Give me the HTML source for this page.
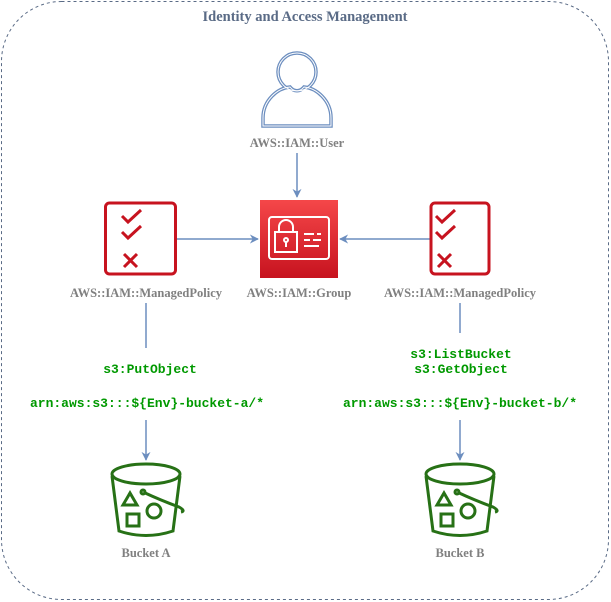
<!DOCTYPE html>
<html><head><style>body{margin:0;background:#fff}svg{display:block}</style></head>
<body>
<svg width="611" height="602" viewBox="0 0 611 602" xmlns="http://www.w3.org/2000/svg">
<defs>
<linearGradient id="rg" x1="0" y1="0" x2="0" y2="1"><stop offset="0" stop-color="#f54749"/><stop offset="1" stop-color="#c7131f"/></linearGradient>
<marker id="ar" viewBox="0 0 10 10" refX="9" refY="5" markerWidth="9" markerHeight="9" markerUnits="userSpaceOnUse" orient="auto"><path d="M0,0 L10,5 L0,10 L3,5 Z" fill="#6c8ebf"/></marker>
</defs>
<rect x="1.5" y="1.5" width="607" height="598" rx="60" fill="none" stroke="#5a6b86" stroke-dasharray="3,3"/>
<text x="305" y="21" text-anchor="middle" font-family="Liberation Serif,serif" font-weight="bold" font-size="14.5" fill="#5a6b86">Identity and Access Management</text>

<!-- user -->
<g fill="#fff" stroke="#6c8ebf" stroke-width="3.5">
<circle cx="297" cy="72" r="19"/>
<path d="M263,126 L263,118 C263,100 278,88 290,87 C294,92 300,92 304,87 C316,88 331,100 331,118 L331,126 Z"/>
</g>
<g fill="none" stroke="#fff" stroke-width="1">
<circle cx="297" cy="72" r="19"/>
<path d="M263,126 L263,118 C263,100 278,88 290,87 C294,92 300,92 304,87 C316,88 331,100 331,118 L331,126 Z"/>
</g>
<g font-family="Liberation Serif,serif" font-weight="bold" font-size="12.5" fill="#808080" text-anchor="middle">
<text x="297" y="147">AWS::IAM::User</text>
<text x="146" y="297">AWS::IAM::ManagedPolicy</text>
<text x="299" y="297">AWS::IAM::Group</text>
<text x="460" y="297">AWS::IAM::ManagedPolicy</text>
<text x="146" y="557">Bucket A</text>
<text x="460" y="557">Bucket B</text>
</g>

<g stroke="#6c8ebf" stroke-width="1.5" fill="none">
<line x1="297" y1="153" x2="297" y2="197" marker-end="url(#ar)"/>
<line x1="177" y1="239" x2="258" y2="239" marker-end="url(#ar)"/>
<line x1="430" y1="239" x2="340" y2="239" marker-end="url(#ar)"/>
<line x1="146" y1="303" x2="146" y2="348"/>
<line x1="146" y1="420" x2="146" y2="460" marker-end="url(#ar)"/>
<line x1="460" y1="303" x2="460" y2="333"/>
<line x1="460" y1="420" x2="460" y2="460" marker-end="url(#ar)"/>
</g>

<!-- group -->
<rect x="260" y="200" width="78" height="78" fill="url(#rg)"/>
<g stroke="#fff" stroke-width="2" fill="none">
<rect x="269" y="217" width="60" height="42" rx="3"/>
<rect x="275" y="232" width="22" height="20"/>
<path d="M279,232 v-5 a7,7 0 0 1 14,0 v5"/>
<circle cx="286" cy="240" r="2"/>
<line x1="286" y1="242" x2="286" y2="247"/>
<line x1="304" y1="234" x2="314" y2="234"/><line x1="317" y1="234" x2="321" y2="234"/>
<line x1="304" y1="240" x2="310" y2="240"/><line x1="313" y1="240" x2="321" y2="240"/>
<line x1="304" y1="246" x2="319" y2="246"/>
</g>

<!-- policies -->
<g stroke="#c7131f" stroke-width="3" fill="none">
<rect x="105.5" y="203" width="70" height="71" rx="4"/>
<path d="M122,216 l6,6 l13,-12 M122,232 l6,6 l13,-12 M124,254 l13,13 M137,254 l-13,13"/>
<rect x="431" y="203" width="58" height="71" rx="4"/>
<path d="M436,216 l6,6 l13,-12 M436,232 l6,6 l13,-12 M438,254 l13,13 M451,254 l-13,13"/>
</g>

<g font-family="Liberation Mono,monospace" font-weight="bold" font-size="13" fill="#009900" text-anchor="middle">
<text x="150" y="373">s3:PutObject</text>
<text x="147" y="407">arn:aws:s3:::${Env}-bucket-a/*</text>
<text x="461" y="358">s3:ListBucket</text>
<text x="461" y="373">s3:GetObject</text>
<text x="460" y="407">arn:aws:s3:::${Env}-bucket-b/*</text>
</g>

<!-- buckets -->
<g id="bk" stroke="#277116" stroke-width="3" fill="none">
<ellipse cx="146" cy="474" rx="34" ry="10"/>
<path d="M112,476 L119,531 Q146,540 173,531 L180,476"/>
<path d="M123,505 l7,-12 l7,12 Z"/>
<rect x="127" y="514" width="12" height="12"/>
<circle cx="154" cy="511" r="7"/>
<path d="M143,492 Q160,500 179,507 Q186,511 181,512" />
<circle cx="143" cy="492" r="2" fill="#fff"/>
</g>
<use href="#bk" x="314"/>
</svg>
</body></html>
